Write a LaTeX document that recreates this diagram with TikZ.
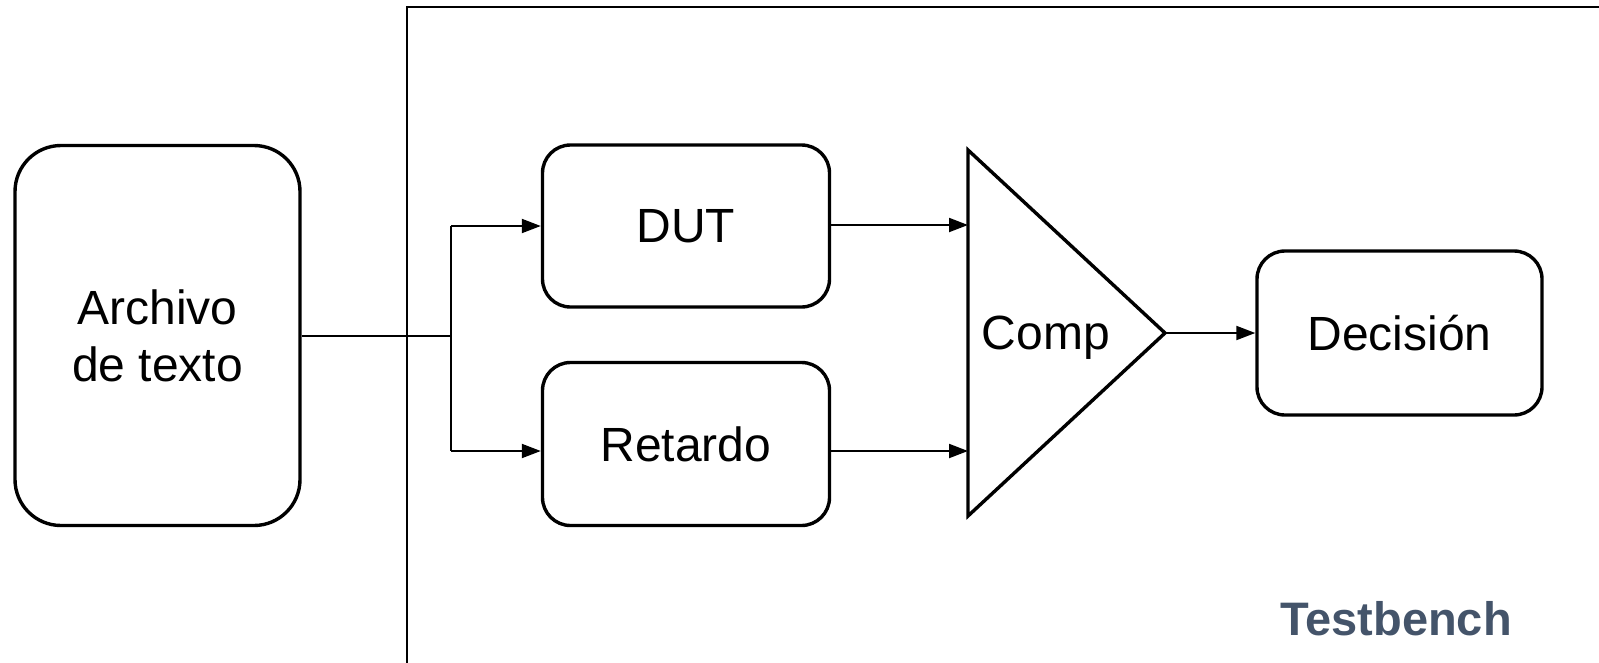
\documentclass[tikz,border=0pt]{standalone}
\usepackage{fontspec}
\setmainfont{Liberation Sans}
\usetikzlibrary{arrows.meta}
\definecolor{tbtext}{RGB}{68,84,106}
\tikzset{
  block/.style={draw, line width=3.4pt, rounded corners=28pt, inner sep=0pt,
    align=center, font=\fontsize{48}{57}\selectfont},
  wire/.style={line width=2pt},
  arrowwire/.style={wire, -{Triangle[length=19pt,width=14pt]}},
  frame/.style={line width=2pt},
}
\begin{document}
\begin{tikzpicture}[x=1pt, y=-1pt]
  \useasboundingbox (0,0) rectangle (1599,662);
  \clip (0,0) rectangle (1599,662);

  % testbench enclosure (continues past the page edges)
  \draw[frame] (407,700) -- (407,7) -- (1700,7);

  % blocks
  \node[block, rounded corners=46pt, minimum width=285pt, minimum height=380pt]
    (arch) at (157.5,335.5) {Archivo\\de texto};
  \node[block, minimum width=287pt, minimum height=162pt] (dut) at (686,226) {DUT};
  \node[block, minimum width=287pt, minimum height=163pt] (ret) at (686,444) {Retardo};
  \node[block, minimum width=285pt, minimum height=164pt] (dec) at (1399.5,333) {Decisión};

  % comparator triangle
  \coordinate (ctop) at (968,150);
  \coordinate (cbot) at (968,516);
  \coordinate (cout) at (1165,333);
  \draw[line width=3.4pt, line join=miter] (ctop) -- (cout) -- (cbot) -- cycle;
  \node[font=\fontsize{48}{57}\selectfont] (comp) at (1046,338) {Comp};
  \coordinate (cin1) at (968,225);
  \coordinate (cin2) at (968,451);

  % fan-out from the text file
  \coordinate (j) at (451,335.5);
  \coordinate (jr) at (451,451);
  \draw[wire] (arch.east) -- (j);
  \draw[wire] (j |- dut.west) -- (jr);
  \draw[arrowwire] (j |- dut.west) -- (dut.west);
  \draw[arrowwire] (jr) -- (ret.west |- jr);

  % into the comparator
  \draw[arrowwire] (dut.east |- cin1) -- (cin1);
  \draw[arrowwire] (ret.east |- cin2) -- (cin2);

  % comparator to decision
  \draw[arrowwire] (cout) -- (dec.west);

  % enclosure label
  \node[text=tbtext, font=\fontsize{47}{56}\selectfont\bfseries, anchor=base]
    (tblabel) at (1396,635) {Testbench};
\end{tikzpicture}
\end{document}
